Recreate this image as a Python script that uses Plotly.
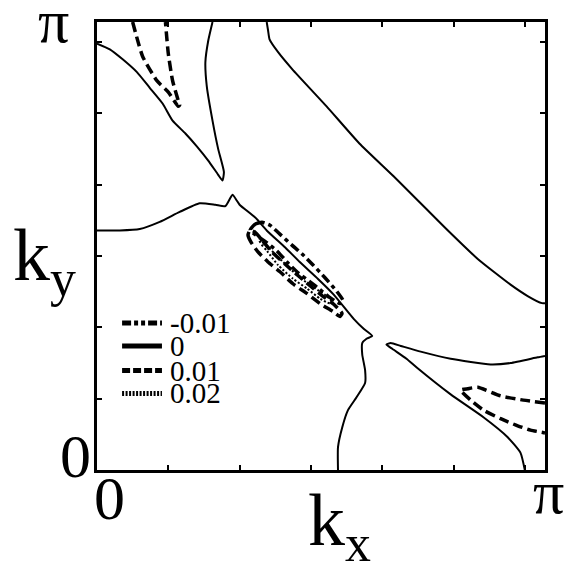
import plotly.graph_objects as go
import numpy as np

# contour levels (legend) and how each one is drawn
levels = ["-0.01", "0", "0.01", "0.02"]
level_dash = ["10px,4px,4px,4px", "solid", "10px,5px", "2px,2px"]
level_width = [3.5, 2, 3.5, 2]
legend_dash = ["9px,3px,4px,3px,4px,3px", "solid", "8px,3px", "2px,1.5px"]

# ---- contour lines, (kx, ky) in radians ----
# level 0, upper-left branch (left edge -> cusp -> top edge)
zero_a_x = [0.0, 0.09, 0.18, 0.28, 0.37, 0.46, 0.53, 0.62, 0.70, 0.78, 0.85, 0.88, 0.89, 0.85, 0.81, 0.77, 0.76, 0.78, 0.81]
zero_a_y = [2.99, 2.95, 2.88, 2.79, 2.68, 2.57, 2.45, 2.36, 2.27, 2.17, 2.07, 2.03, 2.09, 2.25, 2.45, 2.69, 2.86, 3.01, 3.1416]
# level 0, long diagonal in the upper right
zero_b_x = [1.19, 1.20, 1.21, 1.27, 1.37, 1.61, 1.84, 2.08, 2.31, 2.45, 2.67, 2.90, 3.02, 3.12, 3.1416]
zero_b_y = [3.1416, 3.08, 3.02, 2.93, 2.81, 2.55, 2.29, 2.06, 1.83, 1.69, 1.48, 1.30, 1.22, 1.17, 1.17]
# level 0, middle line (left edge -> diagonal -> bottom edge)
zero_c_x = [0.0, 0.16, 0.30, 0.44, 0.58, 0.72, 0.83, 0.90, 0.95, 0.98, 1.00, 1.11, 1.19, 1.32, 1.42, 1.55, 1.66,
            1.80, 1.87, 1.93, 1.89, 1.86, 1.86, 1.88, 1.88, 1.82, 1.76, 1.72, 1.69, 1.69]
zero_c_y = [1.68, 1.68, 1.69, 1.74, 1.81, 1.87, 1.86, 1.85, 1.93, 1.89, 1.86, 1.77, 1.68, 1.56, 1.46, 1.34, 1.23,
            1.06, 0.99, 0.94, 0.92, 0.89, 0.81, 0.70, 0.61, 0.51, 0.42, 0.30, 0.16, 0.0]
# level 0, lower-right branch (right edge -> cusp -> bottom edge)
zero_d_x = [3.1416, 3.09, 2.90, 2.76, 2.48, 2.27, 2.13, 2.06, 2.03, 2.07, 2.17, 2.24, 2.48, 2.71, 2.88, 2.97, 3.00]
zero_d_y = [0.80, 0.79, 0.75, 0.74, 0.78, 0.83, 0.87, 0.89, 0.88, 0.85, 0.78, 0.72, 0.53, 0.37, 0.23, 0.12, 0.0]

# level 0.01
p01_a_x = [0.25, 0.32, 0.42, 0.50, 0.57, 0.58, 0.57, 0.53, 0.50, 0.48]
p01_a_y = [3.1416, 2.90, 2.73, 2.65, 2.55, 2.56, 2.59, 2.73, 2.92, 3.1416]
p01_b_x = [3.1416, 2.99, 2.83, 2.67, 2.60, 2.55, 2.62, 2.71, 2.83, 2.95, 3.04, 3.1416]
p01_b_y = [0.47, 0.49, 0.52, 0.58, 0.57, 0.56, 0.49, 0.42, 0.36, 0.31, 0.28, 0.26]
p01_c_x = [1.073, 1.059, 1.080, 1.129, 1.199, 1.283, 1.374, 1.473, 1.564, 1.655, 1.704, 1.718, 1.662, 1.578,
           1.494, 1.403, 1.318, 1.227, 1.157, 1.108, 1.073]
p01_c_y = [1.682, 1.647, 1.598, 1.529, 1.459, 1.390, 1.306, 1.237, 1.167, 1.112, 1.077, 1.098, 1.161, 1.223,
           1.293, 1.369, 1.445, 1.529, 1.612, 1.668, 1.682]

# level -0.01
m01_x = [1.073, 1.108, 1.157, 1.213, 1.290, 1.367, 1.438, 1.515, 1.599, 1.683, 1.725, 1.704, 1.634, 1.564,
         1.494, 1.410, 1.339, 1.262, 1.185, 1.115, 1.073]
m01_y = [1.682, 1.723, 1.737, 1.716, 1.647, 1.577, 1.515, 1.438, 1.348, 1.251, 1.188, 1.167, 1.209, 1.265,
         1.320, 1.383, 1.452, 1.536, 1.598, 1.647, 1.682]

# level 0.02
p02_x = [1.136, 1.157, 1.192, 1.269, 1.374, 1.473, 1.564, 1.634, 1.655, 1.606, 1.522, 1.424, 1.332, 1.248, 1.185, 1.136]
p02_y = [1.612, 1.577, 1.536, 1.438, 1.341, 1.272, 1.202, 1.167, 1.174, 1.223, 1.279, 1.348, 1.432, 1.515, 1.577, 1.612]

curves = [
    (m01_x, m01_y, 0),
    (zero_a_x, zero_a_y, 1), (zero_b_x, zero_b_y, 1), (zero_c_x, zero_c_y, 1), (zero_d_x, zero_d_y, 1),
    (p01_a_x, p01_a_y, 2), (p01_b_x, p01_b_y, 2), (p01_c_x, p01_c_y, 2),
    (p02_x, p02_y, 3),
]

fig = go.Figure()
for cx, cy, lv in curves:
    fig.add_trace(go.Scatter(x=cx, y=cy, mode="lines",
                             line=dict(color="black", width=level_width[lv], dash=level_dash[lv],
                                       shape="spline", smoothing=0.5),
                             showlegend=False, hoverinfo="skip"))

serif = "Liberation Serif, Times New Roman, serif"

# hand-made legend in the lower left corner
leg_y = [0.328, 0.277, 0.222, 0.171]
for i, lab in enumerate(levels):
    fig.add_shape(type="line", xref="paper", yref="paper", x0=0.056, x1=0.145, y0=leg_y[i], y1=leg_y[i],
                  line=dict(color="black", width=5, dash=legend_dash[i]))
    fig.add_annotation(x=0.158, y=leg_y[i], xref="paper", yref="paper", text=lab, showarrow=False,
                       xanchor="left", yanchor="middle", font=dict(size=29, family=serif, color="black"))

# axis end labels and titles
big = dict(family=serif, size=62, color="black")
labels = [
    (-0.096, 1.003, "π", big),
    (-0.047, 0.031, "0", big),
    (0.029, -0.062, "0", big),
    (1.007, -0.049, "π", big),
    (0.542, -0.124, "k<sub>x</sub>", dict(family=serif, size=74, color="black")),
    (-0.118, 0.467, "k<sub>y</sub>", dict(family=serif, size=74, color="black")),
]
for lx, ly, txt, fnt in labels:
    fig.add_annotation(x=lx, y=ly, xref="paper", yref="paper", text=txt, showarrow=False,
                       xanchor="center", yanchor="middle", font=fnt)

axis_style = dict(range=[0, np.pi], showgrid=False, zeroline=False, showline=True, linecolor="black",
                  linewidth=3, mirror="ticks", ticks="inside", ticklen=5, tickwidth=2, tickcolor="black",
                  tickvals=[0.5, 1.0, 1.5, 2.0, 2.5, 3.0], showticklabels=False)

# the page puts the plot 8px in from the corner, margins account for that
fig.update_layout(
    width=575, height=568,
    margin=dict(l=89, r=38, t=11, b=106),
    plot_bgcolor="white", paper_bgcolor="white",
    showlegend=False,
    xaxis=axis_style,
    yaxis=axis_style,
)

fig.write_html("out.html")
